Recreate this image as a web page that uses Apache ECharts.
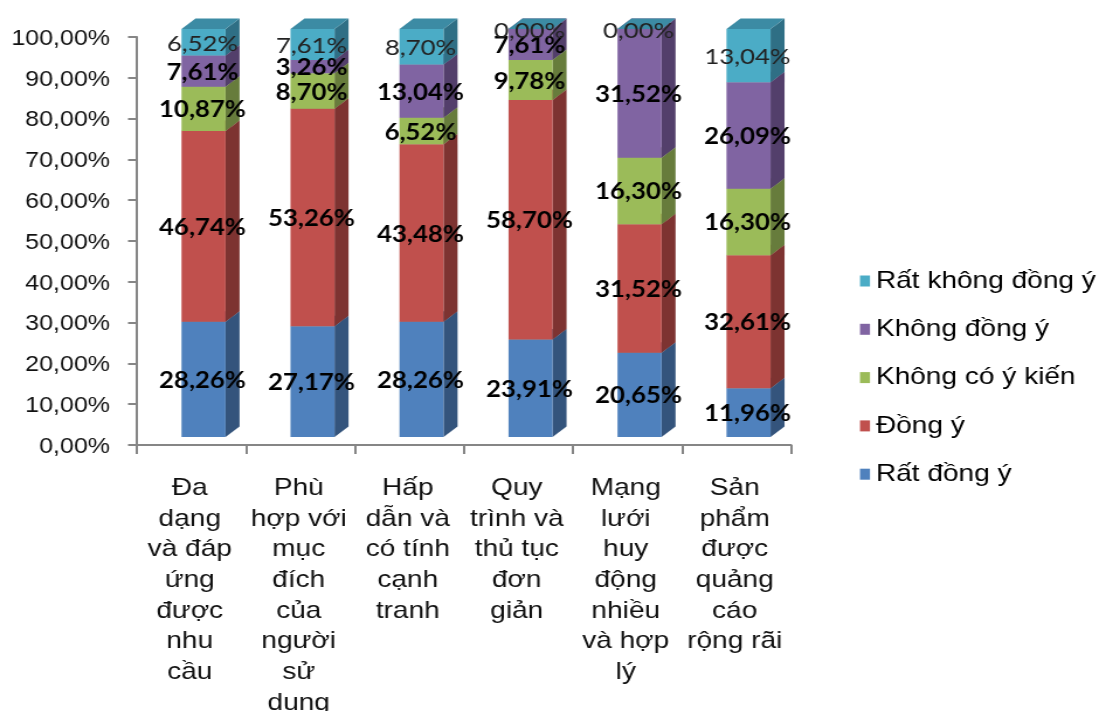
<!DOCTYPE html>
<html>
<head>
<meta charset="utf-8">
<style>
html,body{margin:0;padding:0;background:#fff;overflow:hidden}
/* the figure is laid out narrower, then widened to fill the page */
#chart{width:940px;height:711px;transform:scaleX(1.16915);transform-origin:0 0}
</style>
<script src="https://cdn.jsdelivr.net/npm/echarts@6/dist/echarts.min.js"></script>
</head>
<body>
<div id="chart"></div>
<script>
// Survey answers per product attribute, in percent
const categories = [
  'Đa\ndạng\nvà đáp\nứng\nđược\nnhu\ncầu',
  'Phù\nhợp với\nmục\nđích\ncủa\nngười\nsử\ndụng',
  'Hấp\ndẫn và\ncó tính\ncạnh\ntranh',
  'Quy\ntrình và\nthủ tục\nđơn\ngiản',
  'Mạng\nlưới\nhuy\nđộng\nnhiều\nvà hợp\nlý',
  'Sản\nphẩm\nđược\nquảng\ncáo\nrộng rãi'
];
const ratDongY = [28.26, 27.17, 28.26, 23.91, 20.65, 11.96];
const dongY = [46.74, 53.26, 43.48, 58.70, 31.52, 32.61];
const khongCoYKien = [10.87, 8.70, 6.52, 9.78, 16.30, 16.30];
const khongDongY = [7.61, 3.26, 13.04, 7.61, 31.52, 26.09];
const ratKhongDongY = [6.52, 7.61, 8.70, 0.00, 0.00, 13.04];

const seriesDefs = [
  { name: 'Rất đồng ý', values: ratDongY, front: '#4f81bd', side: '#34547c', top: '#41698f', bold: true },
  { name: 'Đồng ý', values: dongY, front: '#c0504d', side: '#7d3331', top: '#9c4240', bold: true },
  { name: 'Không có ý kiến', values: khongCoYKien, front: '#9bbb59', side: '#677c3c', top: '#7f9a49', bold: true },
  { name: 'Không đồng ý', values: khongDongY, front: '#8064a2', side: '#533f6b', top: '#695285', bold: true },
  { name: 'Rất không đồng ý', values: ratKhongDongY, front: '#4bacc6', side: '#2f6f85', top: '#3c8ba4', bold: false }
];

const fmtPct = v => v.toFixed(2).replace('.', ',') + '%';

// Horizontal widening applied to the whole figure by the stylesheet
const SX = 1099 / 940;
const px = v => v / SX;

// Oblique projection of the columns: offset of the front face from the axes, and depth vector
const SHIFT_X = px(-10), SHIFT_Y = -8, DEPTH_X = px(14), DEPTH_Y = -10.5, BAR_RATIO = 0.404;

function renderBlock(def) {
  return function (params, api) {
    const cat = api.value(0), from = api.value(1), to = api.value(2);
    const base = api.coord([cat, from]);
    const tip = api.coord([cat, to]);
    const w = api.size([1, 0])[0] * BAR_RATIO;
    const x0 = base[0] + SHIFT_X, x1 = x0 + w;
    const yb = base[1] + SHIFT_Y, yt = tip[1] + SHIFT_Y;
    return {
      type: 'group',
      children: [
        { type: 'polygon', shape: { points: [[x1, yb], [x1 + DEPTH_X, yb + DEPTH_Y], [x1 + DEPTH_X, yt + DEPTH_Y], [x1, yt]] }, style: { fill: def.side } },
        { type: 'rect', shape: { x: x0, y: yt, width: w, height: yb - yt }, style: { fill: def.front } },
        { type: 'polygon', shape: { points: [[x0, yt], [x1, yt], [x1 + DEPTH_X, yt + DEPTH_Y], [x0 + DEPTH_X, yt + DEPTH_Y]] }, style: { fill: def.top } },
        {
          type: 'text', z2: 100,
          style: {
            x: x0 + w / 2 - px(1), y: (yb + yt) / 2 + 1.5, text: fmtPct(to - from),
            textAlign: 'center', textVerticalAlign: 'middle',
            font: (def.bold ? 'bold ' : '') + '22px Lato, sans-serif',
            fill: def.bold ? '#000' : '#222'
          }
        }
      ]
    };
  };
}

const running = categories.map(() => 0);
const series = seriesDefs.map(def => {
  const data = def.values.map((v, i) => {
    const row = [i, running[i], running[i] + v];
    running[i] += v;
    return row;
  });
  return {
    type: 'custom', name: def.name, data,
    encode: { x: 0, y: [1, 2] },
    itemStyle: { color: def.front },
    clip: false, silent: true,
    renderItem: renderBlock(def)
  };
});

const chart = echarts.init(document.getElementById('chart'), null, { renderer: 'canvas' });
const axisColor = '#868686';
const textFont = '"Liberation Sans", Arial, sans-serif';
chart.setOption({
  animation: false,
  backgroundColor: '#fff',
  grid: { left: px(137), right: px(308), top: 37, bottom: 266, outerBoundsMode: 'none' },
  legend: {
    orient: 'vertical', left: px(860), top: 269, icon: 'rect',
    itemWidth: px(10), itemHeight: 11, itemGap: 24.3, padding: 0,
    data: seriesDefs.map(d => d.name).reverse(),
    textStyle: { fontFamily: textFont, fontSize: 24, color: '#000' }
  },
  xAxis: {
    type: 'category', data: categories,
    axisLine: { lineStyle: { color: axisColor, width: 2 } },
    axisTick: { show: true, length: 9, lineStyle: { color: axisColor, width: 2 } },
    axisLabel: { interval: 0, margin: 28, lineHeight: 30.7, padding: [0, 3, 0, 0], fontFamily: textFont, fontSize: 24, color: '#111' }
  },
  yAxis: {
    type: 'value', min: 0, max: 100, interval: 10,
    splitLine: { show: false },
    axisLine: { show: true, lineStyle: { color: axisColor, width: 2 } },
    axisTick: { show: true, length: px(9), lineStyle: { color: axisColor, width: 2 } },
    axisLabel: { margin: px(27), verticalAlign: 'top', lineHeight: 4, formatter: v => fmtPct(v), fontFamily: textFont, fontSize: 21.4, color: '#111' }
  },
  series
});
</script>
</body>
</html>
